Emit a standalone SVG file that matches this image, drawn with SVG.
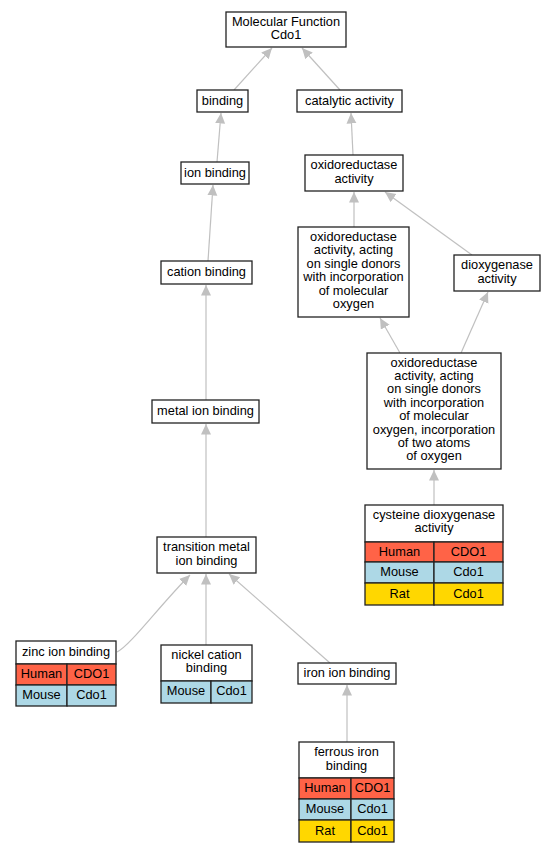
<svg xmlns="http://www.w3.org/2000/svg" width="553" height="853" viewBox="0 0 553 853">
<style>
text{font-family:"Liberation Sans",Arial,sans-serif;font-size:12.8px;fill:#000;text-anchor:middle;transform:translate(0px,-1px)}
.box{fill:#fff;stroke:#222;stroke-width:1.3}
.h{fill:#ff6347;stroke:#222;stroke-width:1.3}
.m{fill:#add8e6;stroke:#222;stroke-width:1.3}
.r{fill:#ffd700;stroke:#222;stroke-width:1.3}
.e{fill:none;stroke:#c0c0c0;stroke-width:1.2;marker-end:url(#ah)}
</style>
<defs>
<marker id="ah" markerUnits="userSpaceOnUse" markerWidth="12" markerHeight="11" refX="10.5" refY="5" orient="auto">
<path d="M0,0 L10.5,5 L0,10 z" fill="#c0c0c0"/>
</marker>
</defs>
<rect width="553" height="853" fill="#fff"/>
<g id="connectors">
<path class="e" d="M234,90 L272,48"/>
<path class="e" d="M340,90 L302,48"/>
<path class="e" d="M217,162 L221,113"/>
<path class="e" d="M353,155 L351,113"/>
<path class="e" d="M354,227 L354,192"/>
<path class="e" d="M472,255 L385,192"/>
<path class="e" d="M400,353 L380,318"/>
<path class="e" d="M461,353 L488,292"/>
<path class="e" d="M208,261 L213,185"/>
<path class="e" d="M206,400 L206,285"/>
<path class="e" d="M206,537 L206,424"/>
<path class="e" d="M117,652 C130,646 160,605 190,575"/>
<path class="e" d="M206,645 L206,574"/>
<path class="e" d="M330,663 L229,574"/>
<path class="e" d="M434,505 L434,470"/>
<path class="e" d="M347,742 L347,685"/>
</g>
<g id="mf">
<rect class="box" x="226" y="12" width="120" height="35"/>
<text x="286" y="26.5">Molecular Function</text>
<text x="286" y="40">Cdo1</text>
</g>
<g id="binding">
<rect class="box" x="197" y="90" width="51" height="22"/>
<text x="222.5" y="105.5">binding</text>
</g>
<g id="catalytic">
<rect class="box" x="297" y="90" width="105" height="22"/>
<text x="349.5" y="105.5">catalytic activity</text>
</g>
<g id="ionbinding">
<rect class="box" x="181" y="162" width="68" height="22"/>
<text x="215" y="177.5">ion binding</text>
</g>
<g id="oxred">
<rect class="box" x="305" y="155" width="98" height="36"/>
<text x="354" y="170">oxidoreductase</text>
<text x="354" y="183.5">activity</text>
</g>
<g id="oxacting">
<rect class="box" x="298" y="227" width="111" height="90"/>
<text x="353.5" y="242">oxidoreductase</text>
<text x="353.5" y="255.4">activity, acting</text>
<text x="353.5" y="268.8">on single donors</text>
<text x="353.5" y="282.2">with incorporation</text>
<text x="353.5" y="295.6">of molecular</text>
<text x="353.5" y="309">oxygen</text>
</g>
<g id="dioxygenase">
<rect class="box" x="454" y="255" width="86" height="36"/>
<text x="497" y="270">dioxygenase</text>
<text x="497" y="283.5">activity</text>
</g>
<g id="oxtwo">
<rect class="box" x="367" y="353" width="134" height="116"/>
<text x="434" y="367.5">oxidoreductase</text>
<text x="434" y="380.9">activity, acting</text>
<text x="434" y="394.3">on single donors</text>
<text x="434" y="407.7">with incorporation</text>
<text x="434" y="421.1">of molecular</text>
<text x="434" y="434.5">oxygen, incorporation</text>
<text x="434" y="447.9">of two atoms</text>
<text x="434" y="461.3">of oxygen</text>
</g>
<g id="cation">
<rect class="box" x="161" y="261" width="91" height="23"/>
<text x="206.5" y="277">cation binding</text>
</g>
<g id="metal">
<rect class="box" x="152" y="400" width="107" height="23"/>
<text x="205.5" y="416">metal ion binding</text>
</g>
<g id="transition">
<rect class="box" x="157" y="537" width="99" height="36"/>
<text x="206.5" y="552">transition metal</text>
<text x="206.5" y="565.5">ion binding</text>
</g>
<g id="zinc">
<rect class="box" x="16" y="641" width="100" height="23"/>
<text x="66" y="657">zinc ion binding</text>
<rect class="h" x="16" y="664" width="51" height="21"/>
<rect class="h" x="67" y="664" width="49" height="21"/>
<text x="41.5" y="679">Human</text>
<text x="91.5" y="679">CDO1</text>
<rect class="m" x="16" y="685" width="51" height="21"/>
<rect class="m" x="67" y="685" width="49" height="21"/>
<text x="41.5" y="700">Mouse</text>
<text x="91.5" y="700">Cdo1</text>
</g>
<g id="nickel">
<rect class="box" x="161" y="645" width="91" height="36"/>
<text x="206.5" y="659.5">nickel cation</text>
<text x="206.5" y="673">binding</text>
<rect class="m" x="161" y="681" width="50" height="22"/>
<rect class="m" x="211" y="681" width="41" height="22"/>
<text x="186" y="696">Mouse</text>
<text x="231.5" y="696">Cdo1</text>
</g>
<g id="iron">
<rect class="box" x="298" y="663" width="98" height="21"/>
<text x="347" y="678">iron ion binding</text>
</g>
<g id="cysteine">
<rect class="box" x="365" y="505" width="138" height="37"/>
<text x="434" y="519.5">cysteine dioxygenase</text>
<text x="434" y="533">activity</text>
<rect class="h" x="365" y="542" width="69" height="20"/>
<rect class="h" x="434" y="542" width="69" height="20"/>
<text x="399.5" y="556.5">Human</text>
<text x="468.5" y="556.5">CDO1</text>
<rect class="m" x="365" y="562" width="69" height="21"/>
<rect class="m" x="434" y="562" width="69" height="21"/>
<text x="399.5" y="577">Mouse</text>
<text x="468.5" y="577">Cdo1</text>
<rect class="r" x="365" y="583" width="69" height="22"/>
<rect class="r" x="434" y="583" width="69" height="22"/>
<text x="399.5" y="598.5">Rat</text>
<text x="468.5" y="598.5">Cdo1</text>
</g>
<g id="ferrous">
<rect class="box" x="299" y="742" width="95" height="36"/>
<text x="346.5" y="757">ferrous iron</text>
<text x="346.5" y="770.5">binding</text>
<rect class="h" x="299" y="778" width="52" height="21"/>
<rect class="h" x="351" y="778" width="43" height="21"/>
<text x="325" y="793">Human</text>
<text x="372.5" y="793">CDO1</text>
<rect class="m" x="299" y="799" width="52" height="21"/>
<rect class="m" x="351" y="799" width="43" height="21"/>
<text x="325" y="814">Mouse</text>
<text x="372.5" y="814">Cdo1</text>
<rect class="r" x="299" y="820" width="52" height="22"/>
<rect class="r" x="351" y="820" width="43" height="22"/>
<text x="325" y="835.5">Rat</text>
<text x="372.5" y="835.5">Cdo1</text>
</g>
</svg>
